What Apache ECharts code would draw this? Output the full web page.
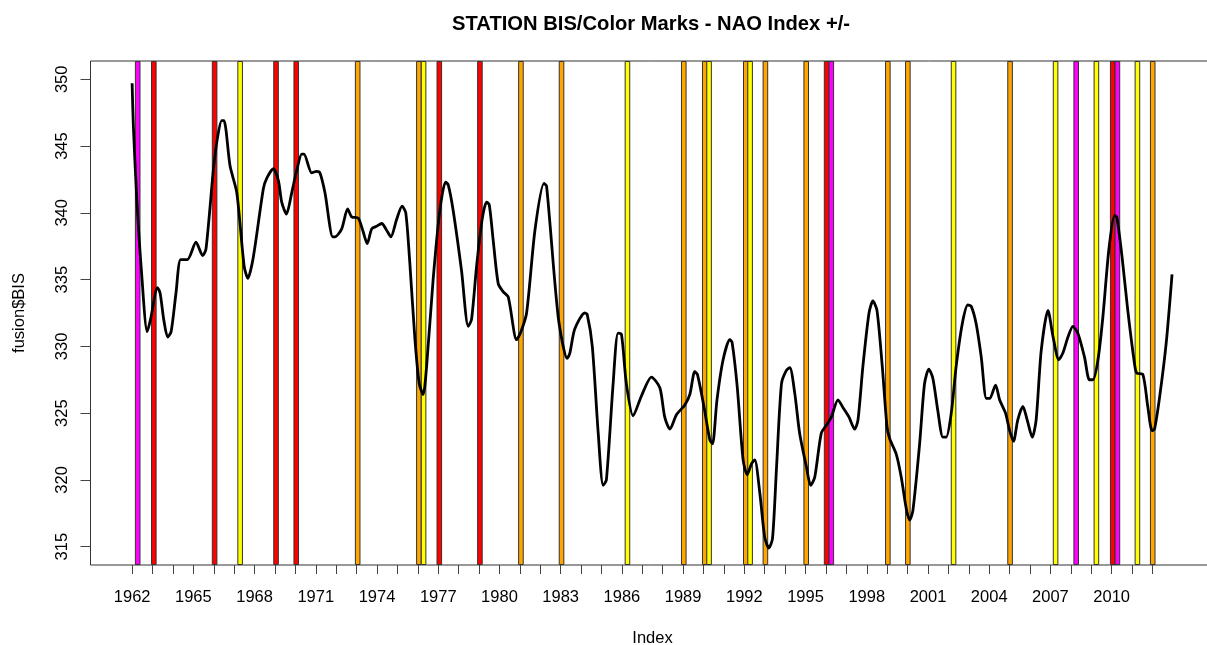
<!DOCTYPE html>
<html>
<head>
<meta charset="utf-8">
<script src="https://cdn.jsdelivr.net/npm/echarts@6/dist/echarts.min.js"></script>
<style>
  html, body { margin: 0; padding: 0; background: #fff; }
  #main { width: 1207px; height: 645px; }
</style>
</head>
<body>
<div id="main"></div>
<script>
// smoothed BIS series (year, value)
var years = [
  1962.00, 1962.06, 1962.23, 1962.44, 1962.74, 1962.90, 1963.24, 1963.37, 1963.55, 1963.74,
  1963.91, 1964.15, 1964.38, 1964.71, 1965.13, 1965.46, 1965.62, 1965.98, 1966.17, 1966.39,
  1966.50, 1966.80, 1967.13, 1967.49, 1967.67, 1967.94, 1968.43, 1968.60, 1968.92, 1969.17,
  1969.33, 1969.56, 1969.82, 1970.07, 1970.31, 1970.42, 1970.80, 1971.04, 1971.20, 1971.45,
  1971.83, 1971.94, 1972.27, 1972.56, 1972.76, 1973.08, 1973.30, 1973.52, 1973.74, 1973.98,
  1974.23, 1974.47, 1974.68, 1974.96, 1975.23, 1975.41, 1975.61, 1975.86, 1976.07, 1976.26,
  1976.43, 1976.75, 1977.08, 1977.36, 1977.49, 1977.73, 1978.14, 1978.47, 1978.63, 1978.88,
  1979.15, 1979.37, 1979.50, 1979.69, 1979.94, 1980.18, 1980.43, 1980.84, 1981.03, 1981.33,
  1981.74, 1982.18, 1982.31, 1982.88, 1983.32, 1983.45, 1983.69, 1984.18, 1984.30, 1984.55,
  1984.84, 1985.08, 1985.24, 1985.57, 1985.81, 1985.98, 1986.22, 1986.55, 1986.96, 1987.45,
  1987.86, 1988.10, 1988.35, 1988.68, 1989.08, 1989.33, 1989.57, 1989.70, 1990.02, 1990.31,
  1990.44, 1990.66, 1990.96, 1991.29, 1991.40, 1991.65, 1991.94, 1992.14, 1992.35, 1992.51,
  1992.76, 1993.00, 1993.20, 1993.38, 1993.58, 1993.82, 1994.06, 1994.23, 1994.47, 1994.71,
  1995.04, 1995.25, 1995.45, 1995.77, 1996.02, 1996.26, 1996.59, 1996.84, 1997.13, 1997.41,
  1997.57, 1997.81, 1998.11, 1998.30, 1998.50, 1998.76, 1998.99, 1999.12, 1999.45, 1999.69,
  1999.94, 2000.10, 2000.26, 2000.59, 2000.83, 2001.04, 2001.24, 2001.48, 2001.73, 2001.89,
  2002.14, 2002.38, 2002.68, 2002.95, 2003.12, 2003.36, 2003.61, 2003.86, 2004.02, 2004.31,
  2004.51, 2004.80, 2005.00, 2005.19, 2005.40, 2005.65, 2005.86, 2006.11, 2006.30, 2006.55,
  2006.88, 2007.13, 2007.41, 2007.61, 2007.86, 2008.10, 2008.34, 2008.67, 2008.91, 2009.08,
  2009.32, 2009.57, 2009.86, 2010.14, 2010.25, 2010.51, 2010.79, 2011.12, 2011.23, 2011.53,
  2011.77, 2011.98, 2012.10, 2012.35, 2012.67, 2012.96
];
var bisValues = [
  349.7, 346.5, 341.0, 336.0, 331.1, 332.0, 334.4, 334.0, 332.0, 330.7,
  331.1, 334.0, 336.5, 336.5, 337.8, 336.8, 337.3, 343.2, 345.5, 346.9,
  346.9, 343.5, 341.5, 336.0, 335.1, 336.7, 341.8, 342.6, 343.3, 342.4,
  340.8, 339.9, 341.5, 343.2, 344.4, 344.4, 343.0, 343.1, 343.0, 341.5,
  338.2, 338.2, 338.8, 340.3, 339.7, 339.6, 338.7, 337.7, 338.8, 339.0,
  339.2, 338.7, 338.2, 339.5, 340.5, 340.0, 336.2, 330.5, 327.2, 326.4,
  328.5, 335.0, 340.2, 342.3, 342.1, 340.2, 335.7, 331.5, 332.0, 336.0,
  339.5, 340.8, 340.6, 338.0, 334.7, 334.1, 333.7, 330.5, 331.0, 332.5,
  338.7, 342.2, 342.0, 332.2, 329.1, 329.5, 331.3, 332.5, 332.4, 330.0,
  323.5, 319.6, 320.0, 327.2, 331.0, 330.9, 327.2, 324.8, 326.3, 327.7,
  326.9, 324.7, 323.8, 324.9, 325.6, 326.4, 328.1, 327.9, 325.5, 323.0,
  322.7, 326.0, 329.0, 330.5, 330.3, 327.0, 321.5, 320.4, 321.2, 321.5,
  319.0, 315.7, 314.9, 315.6, 321.0, 327.2, 328.2, 328.4, 326.5, 323.5,
  321.0, 319.6, 320.2, 323.5, 324.1, 324.7, 326.0, 325.4, 324.7, 323.8,
  324.5, 328.5, 332.5, 333.4, 332.7, 328.5, 324.0, 323.1, 321.9, 320.2,
  317.8, 317.0, 317.7, 322.7, 327.2, 328.3, 327.6, 325.2, 323.2, 323.2,
  325.0, 328.5, 331.7, 333.1, 333.0, 331.7, 329.2, 326.1, 326.1, 327.1,
  326.0, 325.0, 323.7, 322.9, 324.5, 325.5, 324.5, 323.2, 324.5, 329.7,
  332.7, 330.7, 329.0, 329.5, 330.7, 331.5, 331.0, 329.2, 327.5, 327.5,
  328.9, 332.2, 337.2, 339.8, 339.7, 336.7, 332.7, 328.7, 328.0, 327.9,
  325.5, 323.7, 323.8, 326.2, 330.2, 335.4
];

// NAO colour marks: start year of each band and its colour
var bandStarts = [
  1962.16, 1962.95, 1965.93, 1967.18, 1968.94, 1969.93, 1972.94, 1975.94, 1976.17, 1976.94,
  1978.93, 1980.94, 1982.93, 1986.16, 1988.92, 1989.95, 1990.16, 1991.96, 1992.17, 1992.92,
  1994.92, 1995.92, 1996.15, 1998.92, 1999.90, 2002.14, 2004.91, 2007.14, 2008.15, 2009.14,
  2009.94, 2010.17, 2011.15, 2011.90
];
var bandColors = [
  'magenta', 'red', 'red', 'yellow', 'red', 'red', 'orange', 'orange', 'yellow', 'red',
  'red', 'orange', 'orange', 'yellow', 'orange', 'orange', 'yellow', 'orange', 'yellow', 'orange',
  'orange', 'red', 'magenta', 'orange', 'orange', 'yellow', 'orange', 'yellow', 'magenta', 'yellow',
  'red', 'magenta', 'yellow', 'orange'
];
var BAND_W = 0.225;

var tickYears = [];
for (var y = 1962; y <= 2012; y++) tickYears.push(y);
var labelYears = [];
for (var y = 1962; y <= 2010; y += 3) labelYears.push(y);
var yTicks = [315, 320, 325, 330, 335, 340, 345, 350];

var palette = { magenta: '#FF00FF', red: '#FF0000', yellow: '#FFFF00', orange: '#FFA500' };
var FONT = "'Liberation Sans', Arial, sans-serif";

var chart = echarts.init(document.getElementById('main'));
chart.setOption({
  animation: false,
  title: {
    text: 'STATION BIS/Color Marks - NAO Index +/-',
    left: 646,
    textAlign: 'center',
    top: 9,
    textStyle: { fontFamily: FONT, fontSize: 20.2, fontWeight: 'bold', color: '#000' }
  },
  grid: {
    left: 90.5, right: -7.5, top: 61, bottom: 80,
    outerBoundsMode: 'none',
    containLabel: false,
    show: true, borderColor: '#333', borderWidth: 1, backgroundColor: '#fff'
  },
  xAxis: {
    type: 'value',
    min: 1959.96, max: 2015.04,
    name: 'Index',
    nameLocation: 'middle',
    nameGap: 65,
    nameTextStyle: { fontFamily: FONT, fontSize: 16.5, color: '#000' },
    axisLine: { show: false },
    splitLine: { show: false },
    axisTick: { show: true, length: 9, lineStyle: { color: '#444' }, customValues: tickYears },
    axisLabel: {
      fontFamily: FONT, fontSize: 16.5, color: '#000', margin: 24,
      customValues: labelYears,
      formatter: function (v) { return String(v); }
    }
  },
  yAxis: {
    type: 'value',
    min: 313.63, max: 351.37,
    name: 'fusion$BIS',
    nameLocation: 'middle',
    nameGap: 63,
    nameRotate: 90,
    nameTextStyle: { fontFamily: FONT, fontSize: 16.5, color: '#000' },
    axisLine: { show: false },
    splitLine: { show: false },
    axisTick: { show: true, length: 10, lineStyle: { color: '#444' }, customValues: yTicks },
    axisLabel: {
      fontFamily: FONT, fontSize: 16.5, color: '#000', margin: 20, rotate: 90,
      customValues: yTicks
    }
  },
  series: [
    {
      type: 'custom',
      z: 2,
      silent: true,
      data: bandStarts.map(function (s, i) { return [s, s + BAND_W, i]; }),
      encode: { x: [0, 1] },
      renderItem: function (params, api) {
        var cs = params.coordSys;
        var x0 = api.coord([api.value(0), 330])[0];
        var x1 = api.coord([api.value(1), 330])[0];
        return {
          type: 'rect',
          shape: { x: x0, y: cs.y + 0.5, width: x1 - x0, height: cs.height - 1 },
          style: { fill: palette[bandColors[api.value(2)]], stroke: '#333', lineWidth: 1 }
        };
      }
    },
    {
      type: 'line',
      z: 3,
      data: years.map(function (yr, i) { return [yr, bisValues[i]]; }),
      showSymbol: false,
      smooth: 0.25,
      lineStyle: { color: '#000', width: 2.8 }
    }
  ]
});
</script>
</body>
</html>
